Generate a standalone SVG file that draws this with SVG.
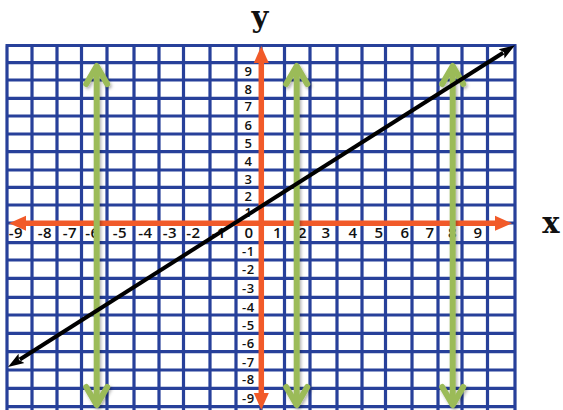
<svg xmlns="http://www.w3.org/2000/svg" width="563" height="410" viewBox="0 0 563 410">
  <style>
    .grid { fill: none; stroke: #27409a; stroke-width: 3.2; }
    .axis { fill: none; stroke: #f15a29; stroke-width: 5.5; }
    .vert { fill: none; stroke: #9bbb59; stroke-width: 6; }
    .graph { fill: none; stroke: #000000; stroke-width: 4; }
    .ylab { font-family: "Open Sans", "Noto Sans", sans-serif; font-weight: 600; font-size: 13px; letter-spacing: 0.6px; fill: #111; text-anchor: middle; }
    .xlab { font-family: "Open Sans", "Noto Sans", sans-serif; font-weight: 600; font-size: 15px; letter-spacing: 0.6px; fill: #111; text-anchor: middle; }
    .title { font-family: "DejaVu Serif", "Liberation Serif", serif; font-weight: bold; font-size: 29px; fill: #111; text-anchor: middle; }
  </style>
  <defs>
    <marker id="orangeHead" viewBox="0 -9 18 18" refX="1" refY="0" markerWidth="18" markerHeight="18" markerUnits="userSpaceOnUse" orient="auto-start-reverse">
      <path d="M0,-7.5 L17,0 L0,7.5 Z" fill="#f15a29"/>
    </marker>
    <marker id="greenHead" viewBox="-24 -15 30 30" refX="0" refY="0" markerWidth="30" markerHeight="30" markerUnits="userSpaceOnUse" orient="auto-start-reverse" overflow="visible">
      <path d="M-18,-10.5 L0,0 L-18,10.5" fill="none" stroke="#9bbb59" stroke-width="6" stroke-linecap="round" stroke-linejoin="round"/>
    </marker>
    <marker id="blackHead" viewBox="0 -7 18 14" refX="2" refY="0" markerWidth="18" markerHeight="14" markerUnits="userSpaceOnUse" orient="auto-start-reverse">
      <path d="M0,-5.5 L16,0 L0,5.5 L3,0 Z" fill="#000"/>
    </marker>
    <filter id="shadow" x="-50%" y="-10%" width="200%" height="120%">
      <feDropShadow dx="1.5" dy="2" stdDeviation="1.5" flood-color="#000" flood-opacity="0.3"/>
    </filter>
  </defs>

  <rect width="563" height="410" fill="#ffffff"/>

  <g id="grid">
    <path class="grid" d="
      M7,45.5V410 M32,45.5V410 M57,45.5V410 M81.5,45.5V410 M107,45.5V410 M134,45.5V410 M159,45.5V410
      M183.5,45.5V410 M210,45.5V410 M236,45.5V410 M261,45.5V410 M284.5,45.5V410 M310,45.5V410
      M337,45.5V410 M362,45.5V410 M385.5,45.5V410 M412,45.5V410 M438,45.5V410 M462,45.5V410
      M487.5,45.5V410 M515,45.5V410
      M5.5,45.5H516.5 M5.5,62.7H516.5 M5.5,80H516.5 M5.5,98.3H516.5 M5.5,116H516.5 M5.5,134H516.5
      M5.5,151.7H516.5 M5.5,170H516.5 M5.5,187.3H516.5 M5.5,205H516.5 M5.5,223H516.5
      M5.5,242.7H516.5 M5.5,260H516.5 M5.5,278.3H516.5 M5.5,297.3H516.5 M5.5,315H516.5
      M5.5,333.3H516.5 M5.5,351.7H516.5 M5.5,370H516.5 M5.5,388.3H516.5 M5.5,406.7H516.5"/>
  </g>

  <g id="y-labels">
    <text class="ylab" x="248.5" y="75.5">9</text>
    <text class="ylab" x="248.5" y="93.5">8</text>
    <text class="ylab" x="248.5" y="111">7</text>
    <text class="ylab" x="248.5" y="129.5">6</text>
    <text class="ylab" x="248.5" y="147.5">5</text>
    <text class="ylab" x="248.5" y="166">4</text>
    <text class="ylab" x="248.5" y="183.5">3</text>
    <text class="ylab" x="248.5" y="200.5">2</text>
    <text class="ylab" x="248.5" y="217">1</text>
    <text class="ylab" x="248.5" y="256">-1</text>
    <text class="ylab" x="248.5" y="274">-2</text>
    <text class="ylab" x="248.5" y="293">-3</text>
    <text class="ylab" x="248.5" y="311.5">-4</text>
    <text class="ylab" x="248.5" y="330">-5</text>
    <text class="ylab" x="248.5" y="348">-6</text>
    <text class="ylab" x="248.5" y="366.5">-7</text>
    <text class="ylab" x="248.5" y="384">-8</text>
    <text class="ylab" x="248.5" y="403">-9</text>
  </g>

  <g id="x-labels">
    <text class="xlab" x="16" y="238">-9</text>
    <text class="xlab" x="45" y="238">-8</text>
    <text class="xlab" x="70" y="238">-7</text>
    <text class="xlab" x="92.5" y="238">-6</text>
    <text class="xlab" x="120" y="238">-5</text>
    <text class="xlab" x="145.5" y="238">-4</text>
    <text class="xlab" x="170" y="238">-3</text>
    <text class="xlab" x="193.5" y="238">-2</text>
    <text class="xlab" x="219" y="238">-1</text>
    <text class="xlab" x="249" y="238">0</text>
    <text class="xlab" x="277.5" y="238">1</text>
    <text class="xlab" x="302.5" y="238">2</text>
    <text class="xlab" x="326" y="238">3</text>
    <text class="xlab" x="353" y="238">4</text>
    <text class="xlab" x="379" y="238">5</text>
    <text class="xlab" x="405" y="238">6</text>
    <text class="xlab" x="430" y="238">7</text>
    <text class="xlab" x="452.5" y="238">8</text>
    <text class="xlab" x="478" y="238">9</text>
  </g>

  <g id="axis-titles">
    <text class="title" x="260" y="27">y</text>
    <text class="title" x="551" y="233">x</text>
  </g>

  <g id="connectors">
    <g id="axes">
      <line class="axis" x1="25" y1="223.3" x2="496" y2="223.3" marker-start="url(#orangeHead)" marker-end="url(#orangeHead)"/>
      <line class="axis" x1="261.3" y1="62" x2="261.3" y2="394" marker-start="url(#orangeHead)" marker-end="url(#orangeHead)"/>
    </g>
    <g id="vertical-lines" filter="url(#shadow)">
      <line class="vert" x1="96.7" y1="66" x2="96.7" y2="405" marker-start="url(#greenHead)" marker-end="url(#greenHead)"/>
      <line class="vert" x1="296.7" y1="66" x2="296.7" y2="405" marker-start="url(#greenHead)" marker-end="url(#greenHead)"/>
      <line class="vert" x1="452.7" y1="66" x2="452.7" y2="405" marker-start="url(#greenHead)" marker-end="url(#greenHead)"/>
    </g>
    <g id="graph-line">
      <line class="graph" x1="19.8" y1="359.5" x2="503.2" y2="52.8" marker-start="url(#blackHead)" marker-end="url(#blackHead)"/>
    </g>
  </g>
</svg>
